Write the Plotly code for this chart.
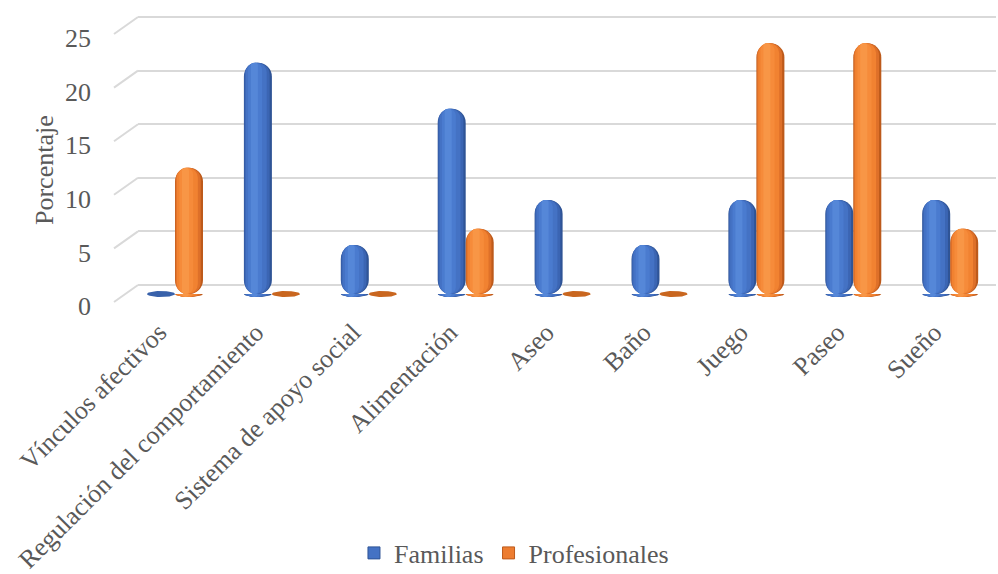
import math
import plotly.graph_objects as go

# ---- data -------------------------------------------------------------
categorias = [
    "Vínculos afectivos",
    "Regulación del comportamiento",
    "Sistema de apoyo social",
    "Alimentación",
    "Aseo",
    "Baño",
    "Juego",
    "Paseo",
    "Sueño",
]
familias = [0.0, 21.3, 4.3, 17.0, 8.5, 4.3, 8.5, 8.5, 8.5]
profesionales = [11.5, 0.0, 0.0, 5.8, 0.0, 0.0, 23.1, 23.1, 5.8]
y_ticks = [0, 5, 10, 15, 20, 25]

# ---- geometry / style -------------------------------------------------
W, H = 998, 574
PLOT_LEFT, PLOT_RIGHT = 138, 996
PLOT_TOP, PLOT_BOTTOM = 8, 305
Y0_PX = 294            # pixel row of the bar base (front of the floor)
BACK_Y0_PX = 285       # pixel row of the back-wall zero line
PX_PER_UNIT = 10.72
FIRST_CAT_PX, CAT_STEP_PX = 175, 96.9

y_range = [-(PLOT_BOTTOM - Y0_PX) / PX_PER_UNIT, (Y0_PX - PLOT_TOP) / PX_PER_UNIT]
back_shift = (Y0_PX - BACK_Y0_PX) / PX_PER_UNIT
y2_range = [y_range[0] - back_shift, y_range[1] - back_shift]
x_range = [-(FIRST_CAT_PX - PLOT_LEFT) / CAT_STEP_PX,
           (PLOT_RIGHT - FIRST_CAT_PX) / CAT_STEP_PX]

BAR_W = 0.289          # width of one cylinder in category units
CAP = 0.28             # half-height of the elliptical end faces (y units)
FONT = "Liberation Serif"
FS = 26
TXT = "#595959"

# (width fraction, centre shift as fraction of half-width, colour)
shade = {
    "Familias": [
        (1.00, 0.00, "#2F5496"),
        (0.90, -0.06, "#3B65B3"),
        (0.75, -0.12, "#4472C4"),
        (0.50, -0.20, "#4A7BCF"),
        (0.25, -0.25, "#5587D8"),
    ],
    "Profesionales": [
        (1.00, 0.00, "#BD5A1B"),
        (0.90, -0.06, "#DE7029"),
        (0.75, -0.12, "#F18231"),
        (0.50, -0.20, "#F68B3A"),
        (0.25, -0.25, "#F89646"),
    ],
}
disk_color = {"Familias": "#3861AA", "Profesionales": "#C9661F"}
legend_color = {"Familias": "#4472C4", "Profesionales": "#ED7D31"}

series = [("Familias", familias, -BAR_W), ("Profesionales", profesionales, 0.0)]
xs = list(range(len(categorias)))


def ellipse(cx, a, b, t0, t1, n=28):
    """Outline of an ellipse arc around (cx, 0), closed with a None gap."""
    px, py = [], []
    for k in range(n + 1):
        t = t0 + (t1 - t0) * k / n
        px.append(cx + a * math.cos(t))
        py.append(b * math.sin(t))
    px.append(None)
    py.append(None)
    return px, py


fig = go.Figure()

for name, vals, left in series:
    # shaded cylinder bodies; the rounded top reaches the far rim of the
    # top face, which sits CAP above the value in this oblique view
    tops = [v + CAP if v > 0 else 0 for v in vals]
    for f, c, col in shade[name]:
        lw = BAR_W * f
        loff = left + BAR_W / 2 + c * BAR_W / 2 - lw / 2
        fig.add_trace(go.Bar(
            x=xs, y=tops, base=0, offset=loff, width=lw,
            marker=dict(color=col, cornerradius="50%", line_width=0),
            customdata=vals, hovertemplate="%{customdata}<extra></extra>",
            showlegend=False,
        ))
    # curved bottoms of the cylinders (lower half of the base ellipse)
    for f, c, col in shade[name]:
        lw = BAR_W * f
        ex, ey = [], []
        for i, v in zip(xs, vals):
            if v > 0:
                cx = i + left + BAR_W / 2 + c * BAR_W / 2
                px, py = ellipse(cx, lw / 2, CAP, math.pi, 2 * math.pi)
                ex += px
                ey += py
        fig.add_trace(go.Scatter(
            x=ex, y=ey, mode="lines", fill="toself", fillcolor=col,
            line=dict(width=0, color=col), showlegend=False, hoverinfo="skip",
        ))
    # flat disks where the value is zero
    ex, ey = [], []
    for i, v in zip(xs, vals):
        if v == 0:
            px, py = ellipse(i + left + BAR_W / 2, BAR_W / 2, CAP, 0, 2 * math.pi, 48)
            ex += px
            ey += py
    fig.add_trace(go.Scatter(
        x=ex, y=ey, mode="lines", fill="toself", fillcolor=disk_color[name],
        line=dict(width=0, color=disk_color[name]), showlegend=False, hoverinfo="skip",
    ))
    # legend entry
    fig.add_trace(go.Bar(
        x=[0], y=[None], name=name,
        marker=dict(color=legend_color[name], line=dict(color=shade[name][0][2], width=1)),
        showlegend=True, hoverinfo="skip",
    ))

# side-wall gridline stubs (perspective of the back wall)
depth_units = 17 / PX_PER_UNIT
stub_x0 = (114 - PLOT_LEFT) / (PLOT_RIGHT - PLOT_LEFT)
shapes = []
for t in y_ticks:
    shapes.append(dict(
        type="line", xref="paper", yref="y2",
        x0=stub_x0, x1=0, y0=t - depth_units, y1=t,
        line=dict(color="#D9D9D9", width=2), layer="below",
    ))

fig.update_layout(
    width=W, height=H,
    margin=dict(l=PLOT_LEFT, r=W - PLOT_RIGHT, t=PLOT_TOP, b=H - PLOT_BOTTOM, pad=0),
    paper_bgcolor="white", plot_bgcolor="rgba(0,0,0,0)",
    barmode="overlay",
    font=dict(family=FONT, size=FS, color=TXT),
    showlegend=True,
    legend=dict(
        orientation="h", xref="container", yref="container",
        x=0.515, xanchor="center", y=(H - 553) / H, yanchor="middle",
        font=dict(family=FONT, size=FS, color=TXT),
        bgcolor="rgba(0,0,0,0)", itemclick=False, itemdoubleclick=False,
    ),
    xaxis=dict(
        range=x_range, tickvals=xs, ticktext=categorias,
        showgrid=False, zeroline=False,
        showline=False, ticks="", tickangle=-45, automargin=False,
        ticklabelshift=-16, ticklabelstandoff=6,
        tickfont=dict(family=FONT, size=FS, color=TXT),
    ),
    yaxis=dict(
        range=y_range, tickvals=y_ticks, showgrid=False, zeroline=False,
        showline=False, ticks="", automargin=False,
        ticklabelstandoff=46, ticklabelshift=12,
        tickfont=dict(family=FONT, size=FS, color=TXT),
    ),
    yaxis2=dict(
        range=y2_range, overlaying="y", tickvals=y_ticks, showgrid=True,
        gridcolor="#D9D9D9", gridwidth=2, zeroline=False, showticklabels=False,
        ticks="", showline=False, layer="below traces",
    ),
    shapes=shapes,
    annotations=[dict(
        text="Porcentaje", xref="paper", yref="paper",
        x=(44 - PLOT_LEFT) / (PLOT_RIGHT - PLOT_LEFT), xanchor="center",
        y=(PLOT_BOTTOM - 170) / (PLOT_BOTTOM - PLOT_TOP), yanchor="middle",
        textangle=-90, showarrow=False,
        font=dict(family=FONT, size=FS, color=TXT),
    )],
)

# invisible trace to anchor the back-wall grid axis
fig.add_trace(go.Scatter(x=[0], y=[None], yaxis="y2",
                         showlegend=False, hoverinfo="skip"))

fig.write_html("out.html")
